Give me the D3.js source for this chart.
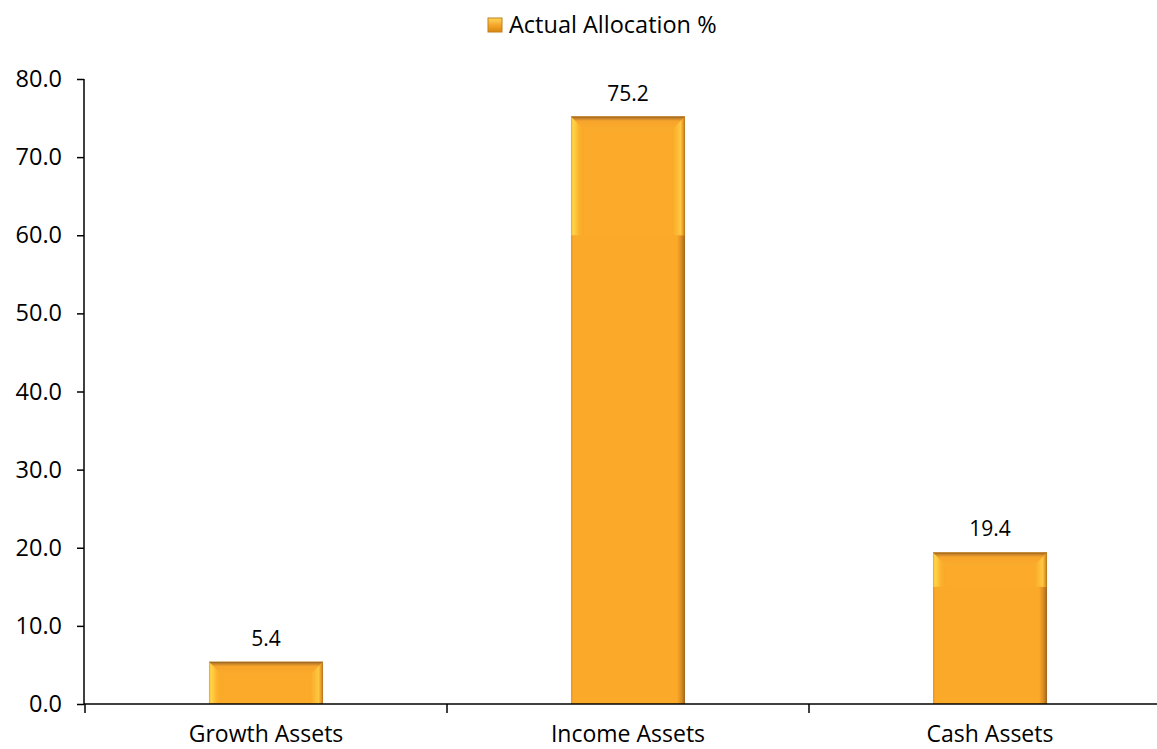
<!DOCTYPE html>
<html>
<head>
<meta charset="utf-8">
<script src="https://cdn.jsdelivr.net/npm/d3@7"></script>
<style>
  body { margin: 0; background: #fff; }
  text { font-family: "Open Sans", Lato, sans-serif; fill: #000; }
</style>
</head>
<body>
<div id="chart"></div>
<script>
var categories = ["Growth Assets", "Income Assets", "Cash Assets"]
var values = [5.4, 75.2, 19.4]
var yTicks = [0, 10, 20, 30, 40, 50, 60, 70, 80]
var seriesName = "Actual Allocation %"

var width = 1157, height = 749
var textureBreaks = [0, 15, 60]   // where the bar texture restarts
var frameW = 13

var svg = d3.select("#chart").append("svg")
  .attr("width", width).attr("height", height)

var defs = svg.append("defs")

function grad(id, dir, stops) {
  var g = defs.append("linearGradient").attr("id", id)
    .attr("x1", 0).attr("y1", 0)
    .attr("x2", dir == "h" ? 1 : 0).attr("y2", dir == "h" ? 0 : 1)
  stops.forEach(s => g.append("stop").attr("offset", s[0]).attr("stop-color", s[1]))
}

grad("leftFrame", "h", [["0%", "#f0a02a"], ["15%", "#ffd849"], ["35%", "#ffc73a"], ["60%", "#fcb22d"], ["100%", "#f9a727"]])
grad("rightFrame", "h", [["0%", "#f9a827"], ["40%", "#fdbb36"], ["65%", "#ffc843"], ["85%", "#e89b28"], ["100%", "#b0711e"]])
grad("topFrame", "v", [["0%", "#8f5d1f"], ["15%", "#c7842a"], ["35%", "#f7a52b"], ["100%", "#fbab2b"]])
grad("plain", "h", [["0%", "#e6941e"], ["2%", "#fba928"], ["93%", "#fba928"], ["97%", "#d88a22"], ["100%", "#9e6420"]])
grad("legendGrad", "v", [["0%", "#ffd85a"], ["50%", "#f6a62a"], ["100%", "#d8870f"]])

var x = d3.scaleBand().domain(categories).range([85, 1171]).paddingInner(0.685).paddingOuter(0.3425)
var y = d3.scaleLinear().domain([0, 80]).range([704, 79])
var bw = x.bandwidth()

// bars
var bars = svg.selectAll("g.bar").data(values).enter().append("g").classed("bar", true)
  .attr("transform", (d, i) => "translate(" + x(categories[i]) + ",0)")

// plain body of the bar
bars.append("rect")
  .attr("x", 0).attr("y", d => y(d))
  .attr("width", bw).attr("height", d => y(0) - y(d))
  .attr("fill", "url(#plain)")

// framed top section, from the value down to the texture break below it
bars.each(function(d) {
  var g = d3.select(this)
  var lo = d3.max(textureBreaks.filter(b => b < d))
  var t = y(d), b = y(lo)
  g.append("rect").attr("x", 0).attr("y", t).attr("width", bw).attr("height", b - t).attr("fill", "#fbaa2a")
  g.append("path").attr("fill", "url(#leftFrame)")
    .attr("d", "M0," + t + "L" + frameW + "," + (t + frameW) + "V" + b + "H0Z")
  g.append("path").attr("fill", "url(#rightFrame)")
    .attr("d", "M" + bw + "," + t + "L" + (bw - frameW) + "," + (t + frameW) + "V" + b + "H" + bw + "Z")
  g.append("path").attr("fill", "url(#topFrame)")
    .attr("d", "M0," + t + "H" + bw + "L" + (bw - frameW) + "," + (t + frameW) + "H" + frameW + "Z")
})

// data labels
bars.append("text")
  .attr("x", bw / 2).attr("y", d => y(d) - 16)
  .attr("text-anchor", "middle").style("font-size", "21px")
  .text(d => d.toFixed(1))

// y axis
var yAxis = svg.append("g").attr("transform", "translate(84,0)")
  .call(d3.axisLeft(y).tickValues(yTicks).tickFormat(d3.format(".1f")).tickSize(7).tickPadding(15))
yAxis.select(".domain").attr("stroke", "#000").attr("stroke-width", 1.5).attr("d", "M0," + y(80) + "H-0V" + y(0))
yAxis.selectAll(".tick line").attr("stroke", "#000").attr("stroke-width", 1.5)
yAxis.selectAll(".tick text").style("font-size", "23.5px").attr("fill", "#000")

// x axis
var xAxis = svg.append("g").attr("transform", "translate(0," + y(0) + ")")
xAxis.append("line").attr("x1", 84).attr("x2", width).attr("y1", 0).attr("y2", 0)
  .attr("stroke", "#000").attr("stroke-width", 1.5)
var bounds = d3.range(categories.length + 1).map(i => 85 + i * x.step())
xAxis.selectAll("line.tick").data(bounds).enter().append("line").classed("tick", true)
  .attr("x1", d => d).attr("x2", d => d).attr("y1", 0).attr("y2", 9)
  .attr("stroke", "#000").attr("stroke-width", 1.5)
xAxis.selectAll("text.cat").data(categories).enter().append("text").classed("cat", true)
  .attr("x", d => x(d) + bw / 2).attr("y", 38)
  .attr("text-anchor", "middle").style("font-size", "23px")
  .text(d => d)

// legend
var legend = svg.append("g").attr("transform", "translate(488,18)")
legend.append("rect").attr("width", 14).attr("height", 14)
  .attr("fill", "url(#legendGrad)").attr("stroke", "#c0801c").attr("stroke-width", 1)
legend.append("text").attr("x", 21).attr("y", 14.5).style("font-size", "23.5px").text(seriesName)
</script>
</body>
</html>
